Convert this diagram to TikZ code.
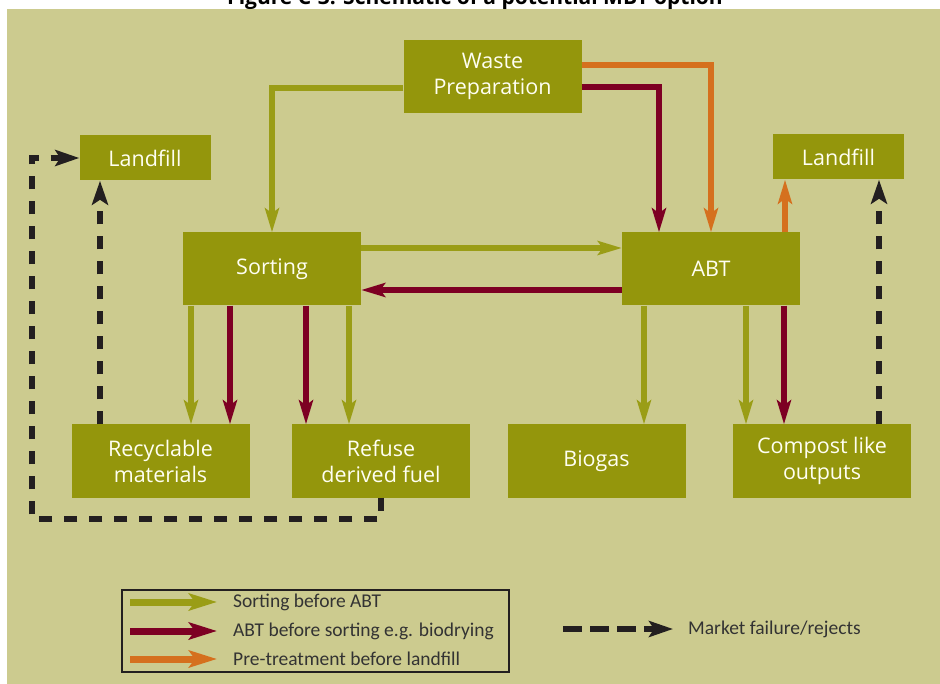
\documentclass[tikz,border=0pt]{standalone}
\usepackage{fontspec}
\setmainfont{Open Sans}
\newfontfamily\legendfont{Carlito}
\usetikzlibrary{positioning,arrows.meta}
\definecolor{PanelBeige}{RGB}{204,203,143}
\definecolor{BoxOlive}{RGB}{148,150,12}
\definecolor{BoxText}{RGB}{255,255,242}
\definecolor{FlowGreen}{RGB}{154,157,22}
\definecolor{FlowRed}{RGB}{125,0,35}
\definecolor{FlowOrange}{RGB}{213,112,30}
\definecolor{RejectBlack}{RGB}{35,31,32}
\definecolor{LegendText}{RGB}{51,51,51}

\begin{document}
\begin{tikzpicture}[x=1pt, y=-1pt,
    unit/.style={fill=BoxOlive, text=BoxText, minimum width=178pt, minimum height=73pt,
        align=center, inner sep=0pt, font=\fontsize{21.5}{26}\selectfont},
    sink/.style={unit, minimum width=131pt, minimum height=45pt},
    flow/.style={line width=5.5pt, -{Stealth[length=24pt, width=14pt, inset=5pt]}},
    sortflow/.style={flow, FlowGreen},
    abtflow/.style={flow, FlowRed},
    preflow/.style={flow, FlowOrange},
    reject/.style={line width=6.5pt, RejectBlack, dash pattern=on 13pt off 12pt,
        line join=miter, -{Stealth[length=24pt, width=16pt, inset=5pt]}},
    keyflow/.style={line width=7pt, -{Stealth[length=28pt, width=17pt, inset=6pt]}},
    legtext/.style={anchor=west, inner sep=0pt, text=LegendText,
        font=\legendfont\fontsize{19.5}{22}\selectfont}
  ]
    % page and panel
    \clip (0,0) rectangle (940,684);
    \fill[white] (0,0) rectangle (940,684);
    \fill[PanelBeige] (7,9) rectangle (940,684);
    \node[font=\bfseries\fontsize{21}{24}\selectfont, anchor=base] (title) at (475,5)
        {Figure C-3: Schematic of a potential MBT option};

    % process boxes
    \node[unit] (wp) at (492.5,76.5) {Waste\\Preparation};
    \node[unit] (sort) at (272,269) {Sorting};
    \node[unit] (abt) at (711,269) {ABT};
    \node[unit] (rec) at (160.5,461) {Recyclable\\materials};
    \node[unit] (rdf) at (381,461) {Refuse\\derived fuel};
    \node[unit] (bio) at (596.5,461) {Biogas};
    \node[unit] (clo) at (822,461) {Compost like\\outputs};
    \node[sink] (lfl) at (145,158) {Landfill};
    \node[sink] (lfr) at (838.5,157) {Landfill};

    % feed from waste preparation
    \draw[sortflow] ([yshift=-11.5pt]wp.west) -| (sort.north);
    \draw[preflow] ([yshift=11.5pt]wp.east) -| (abt.north);
    \draw[abtflow] ([yshift=-10.5pt]wp.east) -| ([xshift=-52pt]abt.north);

    % between sorting and ABT
    \draw[sortflow] ([yshift=21pt]sort.east) -- ([yshift=21pt]abt.west);
    \draw[abtflow] ([yshift=-21pt]abt.west) -- ([yshift=-21pt]sort.east);

    % sorting outputs
    \coordinate (s1) at ([xshift=-81pt]sort.south);
    \coordinate (s2) at ([xshift=-42pt]sort.south);
    \coordinate (s3) at ([xshift=34pt]sort.south);
    \coordinate (s4) at ([xshift=77pt]sort.south);
    \draw[sortflow] (s1) -- (s1 |- rec.north);
    \draw[abtflow] (s2) -- (s2 |- rec.north);
    \draw[abtflow] (s3) -- (s3 |- rdf.north);
    \draw[sortflow] (s4) -- (s4 |- rdf.north);

    % ABT outputs
    \coordinate (a1) at ([xshift=-67pt]abt.south);
    \coordinate (a2) at ([xshift=35pt]abt.south);
    \coordinate (a3) at ([xshift=73pt]abt.south);
    \coordinate (a4) at ([xshift=74pt]abt.north);
    \draw[sortflow] (a1) -- (a1 |- bio.north);
    \draw[sortflow] (a2) -- (a2 |- clo.north);
    \draw[abtflow] (a3) -- (a3 |- clo.north);
    \draw[preflow] (a4) -- (a4 |- lfr.south);

    % rejects to landfill
    \coordinate (r1) at ([xshift=-60.5pt]rec.north);
    \coordinate (r2) at ([xshift=57pt]clo.north);
    \coordinate (loop) at (32,519);
    \draw[reject] (r1) -- (r1 |- lfl.south);
    \draw[reject] (r2) -- (r2 |- lfr.south);
    \draw[reject] (rdf.south) |- (loop) |- (lfl.west);

    % legend
    \draw[RejectBlack, line width=2pt] (122,590) rectangle (509,672);
    \node[legtext] (k1) at (233,602) {Sorting before ABT};
    \node[legtext] (k2) at (233,631) {ABT before sorting e.g. biodrying};
    \node[legtext] (k3) at (233,659) {Pre-treatment before landfill};
    \node[legtext] (k4) at (688,629) {Market failure/rejects};
    \draw[keyflow, FlowGreen] ([xshift=-103pt]k1.west) -- ([xshift=-16pt]k1.west);
    \draw[keyflow, FlowRed] ([xshift=-103pt]k2.west) -- ([xshift=-16pt]k2.west);
    \draw[keyflow, FlowOrange] ([xshift=-103pt]k3.west) -- ([xshift=-16pt]k3.west);
    \draw[reject, dash pattern=on 19pt off 8pt] ([xshift=-125pt]k4.west) -- ([xshift=-15pt]k4.west);
\end{tikzpicture}
\end{document}
